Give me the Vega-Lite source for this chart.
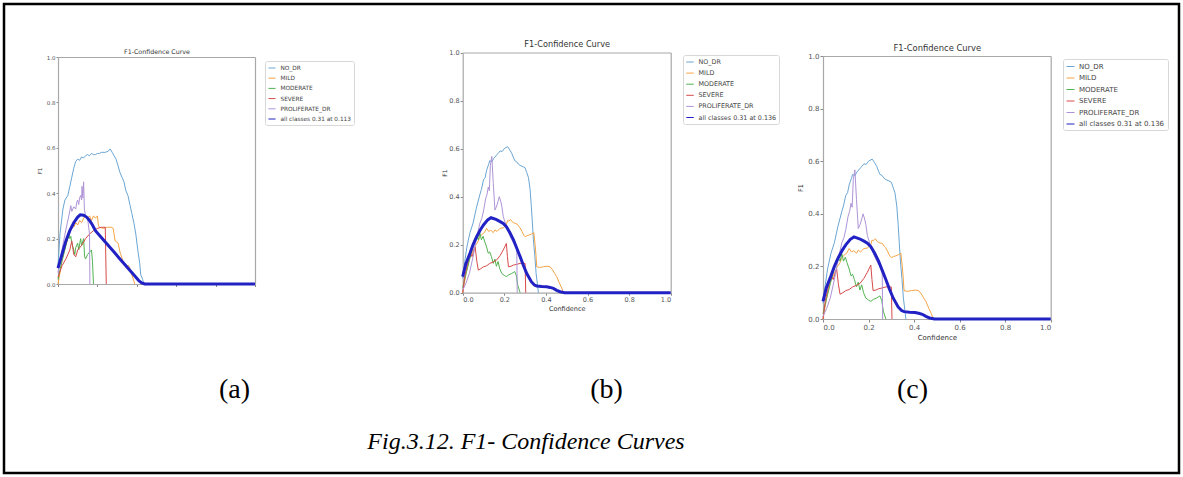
{
  "$schema": "https://vega.github.io/schema/vega-lite/v6.json",
  "width": 1175,
  "height": 469,
  "padding": 4,
  "autosize": {"type": "none"},
  "background": "white",
  "title": {"text": "Fig.3.12. F1- Confidence Curves", "orient": "bottom", "frame": "group", "anchor": "middle", "offset": -24, "dx": -65.5, "baseline": "alphabetic", "font": "Liberation Serif", "fontStyle": "italic", "fontWeight": "normal", "fontSize": 24, "color": "#000"},
  "config": {
    "view": {"stroke": "#000", "strokeWidth": 2.5},
    "axis": {"grid": false, "labelFont": "DejaVu Sans", "titleFont": "DejaVu Sans", "titleFontWeight": "normal", "labelColor": "#555", "titleColor": "#333", "domainColor": "#a8a8a8", "tickColor": "#888", "domainWidth": 1.2},
    "legend": {"labelFont": "DejaVu Sans", "labelColor": "#444", "fillColor": "white", "strokeColor": "#d8d8d8", "cornerRadius": 2, "symbolType": "stroke"}
  },
  "datasets": {
    "a": [
      {"s":"NO_DR","x":0,"y":0.08},{"s":"NO_DR","x":0.01,"y":0.22},{"s":"NO_DR","x":0.025,"y":0.33},{"s":"NO_DR","x":0.035,"y":0.37},{"s":"NO_DR","x":0.05,"y":0.39},{"s":"NO_DR","x":0.06,"y":0.43},{"s":"NO_DR","x":0.07,"y":0.47},{"s":"NO_DR","x":0.08,"y":0.51},{"s":"NO_DR","x":0.09,"y":0.54},{"s":"NO_DR","x":0.1,"y":0.55},{"s":"NO_DR","x":0.11,"y":0.545},{"s":"NO_DR","x":0.12,"y":0.56},{"s":"NO_DR","x":0.13,"y":0.555},{"s":"NO_DR","x":0.14,"y":0.565},{"s":"NO_DR","x":0.15,"y":0.57},{"s":"NO_DR","x":0.16,"y":0.565},{"s":"NO_DR","x":0.17,"y":0.575},{"s":"NO_DR","x":0.18,"y":0.57},{"s":"NO_DR","x":0.19,"y":0.57},{"s":"NO_DR","x":0.2,"y":0.575},{"s":"NO_DR","x":0.21,"y":0.575},{"s":"NO_DR","x":0.22,"y":0.58},{"s":"NO_DR","x":0.24,"y":0.58},{"s":"NO_DR","x":0.255,"y":0.585},{"s":"NO_DR","x":0.265,"y":0.595},{"s":"NO_DR","x":0.275,"y":0.58},{"s":"NO_DR","x":0.285,"y":0.565},{"s":"NO_DR","x":0.295,"y":0.55},{"s":"NO_DR","x":0.305,"y":0.52},{"s":"NO_DR","x":0.315,"y":0.49},{"s":"NO_DR","x":0.325,"y":0.47},{"s":"NO_DR","x":0.335,"y":0.45},{"s":"NO_DR","x":0.345,"y":0.41},{"s":"NO_DR","x":0.355,"y":0.39},{"s":"NO_DR","x":0.365,"y":0.35},{"s":"NO_DR","x":0.375,"y":0.31},{"s":"NO_DR","x":0.385,"y":0.27},{"s":"NO_DR","x":0.395,"y":0.22},{"s":"NO_DR","x":0.405,"y":0.15},{"s":"NO_DR","x":0.415,"y":0.09},{"s":"NO_DR","x":0.42,"y":0.04},{"s":"NO_DR","x":0.43,"y":0.02},{"s":"NO_DR","x":0.435,"y":0},
      {"s":"MILD","x":0,"y":0},{"s":"MILD","x":0.02,"y":0.1},{"s":"MILD","x":0.04,"y":0.17},{"s":"MILD","x":0.06,"y":0.23},{"s":"MILD","x":0.07,"y":0.26},{"s":"MILD","x":0.08,"y":0.25},{"s":"MILD","x":0.09,"y":0.27},{"s":"MILD","x":0.1,"y":0.26},{"s":"MILD","x":0.11,"y":0.28},{"s":"MILD","x":0.12,"y":0.27},{"s":"MILD","x":0.13,"y":0.29},{"s":"MILD","x":0.14,"y":0.3},{"s":"MILD","x":0.15,"y":0.29},{"s":"MILD","x":0.16,"y":0.3},{"s":"MILD","x":0.17,"y":0.28},{"s":"MILD","x":0.18,"y":0.3},{"s":"MILD","x":0.19,"y":0.29},{"s":"MILD","x":0.2,"y":0.3},{"s":"MILD","x":0.205,"y":0.26},{"s":"MILD","x":0.21,"y":0.25},{"s":"MILD","x":0.23,"y":0.245},{"s":"MILD","x":0.25,"y":0.25},{"s":"MILD","x":0.27,"y":0.25},{"s":"MILD","x":0.28,"y":0.245},{"s":"MILD","x":0.29,"y":0.19},{"s":"MILD","x":0.305,"y":0.18},{"s":"MILD","x":0.315,"y":0.14},{"s":"MILD","x":0.33,"y":0.1},{"s":"MILD","x":0.35,"y":0.08},{"s":"MILD","x":0.36,"y":0.08},{"s":"MILD","x":0.375,"y":0.04},{"s":"MILD","x":0.39,"y":0},
      {"s":"MODERATE","x":0,"y":0.02},{"s":"MODERATE","x":0.02,"y":0.1},{"s":"MODERATE","x":0.04,"y":0.17},{"s":"MODERATE","x":0.055,"y":0.22},{"s":"MODERATE","x":0.06,"y":0.2},{"s":"MODERATE","x":0.065,"y":0.21},{"s":"MODERATE","x":0.07,"y":0.18},{"s":"MODERATE","x":0.08,"y":0.15},{"s":"MODERATE","x":0.085,"y":0.13},{"s":"MODERATE","x":0.09,"y":0.16},{"s":"MODERATE","x":0.1,"y":0.18},{"s":"MODERATE","x":0.105,"y":0.15},{"s":"MODERATE","x":0.115,"y":0.2},{"s":"MODERATE","x":0.12,"y":0.17},{"s":"MODERATE","x":0.13,"y":0.2},{"s":"MODERATE","x":0.135,"y":0.12},{"s":"MODERATE","x":0.14,"y":0.11},{"s":"MODERATE","x":0.15,"y":0.13},{"s":"MODERATE","x":0.16,"y":0.14},{"s":"MODERATE","x":0.17,"y":0.15},{"s":"MODERATE","x":0.175,"y":0.1},{"s":"MODERATE","x":0.18,"y":0},
      {"s":"SEVERE","x":0,"y":0.03},{"s":"SEVERE","x":0.02,"y":0.08},{"s":"SEVERE","x":0.04,"y":0.11},{"s":"SEVERE","x":0.06,"y":0.15},{"s":"SEVERE","x":0.07,"y":0.19},{"s":"SEVERE","x":0.075,"y":0.16},{"s":"SEVERE","x":0.08,"y":0.13},{"s":"SEVERE","x":0.09,"y":0.12},{"s":"SEVERE","x":0.1,"y":0.15},{"s":"SEVERE","x":0.12,"y":0.17},{"s":"SEVERE","x":0.14,"y":0.2},{"s":"SEVERE","x":0.16,"y":0.22},{"s":"SEVERE","x":0.18,"y":0.235},{"s":"SEVERE","x":0.2,"y":0.245},{"s":"SEVERE","x":0.22,"y":0.25},{"s":"SEVERE","x":0.24,"y":0.25},{"s":"SEVERE","x":0.245,"y":0},
      {"s":"PROLIFERATE_DR","x":0,"y":0.05},{"s":"PROLIFERATE_DR","x":0.02,"y":0.15},{"s":"PROLIFERATE_DR","x":0.04,"y":0.24},{"s":"PROLIFERATE_DR","x":0.055,"y":0.3},{"s":"PROLIFERATE_DR","x":0.065,"y":0.345},{"s":"PROLIFERATE_DR","x":0.07,"y":0.32},{"s":"PROLIFERATE_DR","x":0.08,"y":0.34},{"s":"PROLIFERATE_DR","x":0.09,"y":0.33},{"s":"PROLIFERATE_DR","x":0.095,"y":0.36},{"s":"PROLIFERATE_DR","x":0.1,"y":0.37},{"s":"PROLIFERATE_DR","x":0.105,"y":0.35},{"s":"PROLIFERATE_DR","x":0.11,"y":0.38},{"s":"PROLIFERATE_DR","x":0.115,"y":0.39},{"s":"PROLIFERATE_DR","x":0.12,"y":0.37},{"s":"PROLIFERATE_DR","x":0.122,"y":0.43},{"s":"PROLIFERATE_DR","x":0.126,"y":0.38},{"s":"PROLIFERATE_DR","x":0.13,"y":0.45},{"s":"PROLIFERATE_DR","x":0.134,"y":0.33},{"s":"PROLIFERATE_DR","x":0.14,"y":0.3},{"s":"PROLIFERATE_DR","x":0.15,"y":0.29},{"s":"PROLIFERATE_DR","x":0.16,"y":0.22},{"s":"PROLIFERATE_DR","x":0.162,"y":0},
      {"s":"all classes 0.31 at 0.113","x":0,"y":0.07},{"s":"all classes 0.31 at 0.113","x":0.02,"y":0.13},{"s":"all classes 0.31 at 0.113","x":0.04,"y":0.19},{"s":"all classes 0.31 at 0.113","x":0.06,"y":0.235},{"s":"all classes 0.31 at 0.113","x":0.08,"y":0.27},{"s":"all classes 0.31 at 0.113","x":0.1,"y":0.295},{"s":"all classes 0.31 at 0.113","x":0.113,"y":0.305},{"s":"all classes 0.31 at 0.113","x":0.13,"y":0.303},{"s":"all classes 0.31 at 0.113","x":0.145,"y":0.295},{"s":"all classes 0.31 at 0.113","x":0.16,"y":0.28},{"s":"all classes 0.31 at 0.113","x":0.175,"y":0.26},{"s":"all classes 0.31 at 0.113","x":0.19,"y":0.235},{"s":"all classes 0.31 at 0.113","x":0.21,"y":0.215},{"s":"all classes 0.31 at 0.113","x":0.23,"y":0.195},{"s":"all classes 0.31 at 0.113","x":0.25,"y":0.175},{"s":"all classes 0.31 at 0.113","x":0.27,"y":0.155},{"s":"all classes 0.31 at 0.113","x":0.29,"y":0.135},{"s":"all classes 0.31 at 0.113","x":0.31,"y":0.115},{"s":"all classes 0.31 at 0.113","x":0.33,"y":0.095},{"s":"all classes 0.31 at 0.113","x":0.35,"y":0.075},{"s":"all classes 0.31 at 0.113","x":0.37,"y":0.055},{"s":"all classes 0.31 at 0.113","x":0.39,"y":0.035},{"s":"all classes 0.31 at 0.113","x":0.41,"y":0.015},{"s":"all classes 0.31 at 0.113","x":0.425,"y":0.005},{"s":"all classes 0.31 at 0.113","x":0.44,"y":0},{"s":"all classes 0.31 at 0.113","x":0.6,"y":0},{"s":"all classes 0.31 at 0.113","x":0.8,"y":0},{"s":"all classes 0.31 at 0.113","x":1,"y":0}
    ],
    "b": [
      {"s":"NO_DR","x":0,"y":0.06},{"s":"NO_DR","x":0.01,"y":0.13},{"s":"NO_DR","x":0.02,"y":0.19},{"s":"NO_DR","x":0.035,"y":0.25},{"s":"NO_DR","x":0.05,"y":0.29},{"s":"NO_DR","x":0.065,"y":0.35},{"s":"NO_DR","x":0.083,"y":0.41},{"s":"NO_DR","x":0.09,"y":0.43},{"s":"NO_DR","x":0.1,"y":0.47},{"s":"NO_DR","x":0.108,"y":0.48},{"s":"NO_DR","x":0.115,"y":0.51},{"s":"NO_DR","x":0.125,"y":0.535},{"s":"NO_DR","x":0.13,"y":0.55},{"s":"NO_DR","x":0.14,"y":0.545},{"s":"NO_DR","x":0.15,"y":0.56},{"s":"NO_DR","x":0.165,"y":0.575},{"s":"NO_DR","x":0.18,"y":0.59},{"s":"NO_DR","x":0.19,"y":0.588},{"s":"NO_DR","x":0.2,"y":0.6},{"s":"NO_DR","x":0.216,"y":0.608},{"s":"NO_DR","x":0.226,"y":0.595},{"s":"NO_DR","x":0.236,"y":0.58},{"s":"NO_DR","x":0.245,"y":0.56},{"s":"NO_DR","x":0.25,"y":0.55},{"s":"NO_DR","x":0.26,"y":0.545},{"s":"NO_DR","x":0.268,"y":0.535},{"s":"NO_DR","x":0.276,"y":0.53},{"s":"NO_DR","x":0.29,"y":0.525},{"s":"NO_DR","x":0.3,"y":0.52},{"s":"NO_DR","x":0.308,"y":0.5},{"s":"NO_DR","x":0.316,"y":0.48},{"s":"NO_DR","x":0.324,"y":0.43},{"s":"NO_DR","x":0.33,"y":0.36},{"s":"NO_DR","x":0.335,"y":0.29},{"s":"NO_DR","x":0.34,"y":0.22},{"s":"NO_DR","x":0.347,"y":0.15},{"s":"NO_DR","x":0.353,"y":0.08},{"s":"NO_DR","x":0.36,"y":0.03},{"s":"NO_DR","x":0.364,"y":0},
      {"s":"MILD","x":0,"y":0},{"s":"MILD","x":0.016,"y":0.08},{"s":"MILD","x":0.032,"y":0.14},{"s":"MILD","x":0.05,"y":0.175},{"s":"MILD","x":0.064,"y":0.2},{"s":"MILD","x":0.072,"y":0.21},{"s":"MILD","x":0.083,"y":0.233},{"s":"MILD","x":0.095,"y":0.245},{"s":"MILD","x":0.104,"y":0.25},{"s":"MILD","x":0.115,"y":0.268},{"s":"MILD","x":0.125,"y":0.255},{"s":"MILD","x":0.135,"y":0.26},{"s":"MILD","x":0.147,"y":0.25},{"s":"MILD","x":0.155,"y":0.262},{"s":"MILD","x":0.165,"y":0.255},{"s":"MILD","x":0.18,"y":0.268},{"s":"MILD","x":0.195,"y":0.27},{"s":"MILD","x":0.21,"y":0.282},{"s":"MILD","x":0.215,"y":0.3},{"s":"MILD","x":0.222,"y":0.298},{"s":"MILD","x":0.23,"y":0.305},{"s":"MILD","x":0.238,"y":0.295},{"s":"MILD","x":0.247,"y":0.29},{"s":"MILD","x":0.255,"y":0.288},{"s":"MILD","x":0.263,"y":0.285},{"s":"MILD","x":0.27,"y":0.275},{"s":"MILD","x":0.276,"y":0.27},{"s":"MILD","x":0.285,"y":0.255},{"s":"MILD","x":0.293,"y":0.24},{"s":"MILD","x":0.3,"y":0.233},{"s":"MILD","x":0.31,"y":0.238},{"s":"MILD","x":0.32,"y":0.24},{"s":"MILD","x":0.332,"y":0.245},{"s":"MILD","x":0.342,"y":0.25},{"s":"MILD","x":0.348,"y":0.2},{"s":"MILD","x":0.352,"y":0.16},{"s":"MILD","x":0.356,"y":0.108},{"s":"MILD","x":0.37,"y":0.105},{"s":"MILD","x":0.388,"y":0.108},{"s":"MILD","x":0.405,"y":0.11},{"s":"MILD","x":0.42,"y":0.108},{"s":"MILD","x":0.432,"y":0.095},{"s":"MILD","x":0.442,"y":0.08},{"s":"MILD","x":0.452,"y":0.067},{"s":"MILD","x":0.465,"y":0.04},{"s":"MILD","x":0.476,"y":0.02},{"s":"MILD","x":0.484,"y":0},
      {"s":"MODERATE","x":0,"y":0.02},{"s":"MODERATE","x":0.016,"y":0.079},{"s":"MODERATE","x":0.032,"y":0.134},{"s":"MODERATE","x":0.048,"y":0.19},{"s":"MODERATE","x":0.058,"y":0.225},{"s":"MODERATE","x":0.067,"y":0.233},{"s":"MODERATE","x":0.075,"y":0.22},{"s":"MODERATE","x":0.083,"y":0.247},{"s":"MODERATE","x":0.09,"y":0.22},{"s":"MODERATE","x":0.098,"y":0.235},{"s":"MODERATE","x":0.105,"y":0.215},{"s":"MODERATE","x":0.115,"y":0.19},{"s":"MODERATE","x":0.123,"y":0.164},{"s":"MODERATE","x":0.13,"y":0.17},{"s":"MODERATE","x":0.138,"y":0.15},{"s":"MODERATE","x":0.147,"y":0.122},{"s":"MODERATE","x":0.155,"y":0.14},{"s":"MODERATE","x":0.162,"y":0.11},{"s":"MODERATE","x":0.17,"y":0.13},{"s":"MODERATE","x":0.178,"y":0.1},{"s":"MODERATE","x":0.188,"y":0.08},{"s":"MODERATE","x":0.2,"y":0.072},{"s":"MODERATE","x":0.21,"y":0.067},{"s":"MODERATE","x":0.222,"y":0.075},{"s":"MODERATE","x":0.236,"y":0.08},{"s":"MODERATE","x":0.25,"y":0.088},{"s":"MODERATE","x":0.258,"y":0.07},{"s":"MODERATE","x":0.265,"y":0.03},{"s":"MODERATE","x":0.276,"y":0},
      {"s":"SEVERE","x":0,"y":0},{"s":"SEVERE","x":0.01,"y":0.07},{"s":"SEVERE","x":0.02,"y":0.108},{"s":"SEVERE","x":0.028,"y":0.14},{"s":"SEVERE","x":0.035,"y":0.164},{"s":"SEVERE","x":0.045,"y":0.15},{"s":"SEVERE","x":0.052,"y":0.17},{"s":"SEVERE","x":0.06,"y":0.19},{"s":"SEVERE","x":0.068,"y":0.13},{"s":"SEVERE","x":0.075,"y":0.094},{"s":"SEVERE","x":0.087,"y":0.1},{"s":"SEVERE","x":0.1,"y":0.108},{"s":"SEVERE","x":0.115,"y":0.112},{"s":"SEVERE","x":0.13,"y":0.122},{"s":"SEVERE","x":0.147,"y":0.128},{"s":"SEVERE","x":0.163,"y":0.136},{"s":"SEVERE","x":0.18,"y":0.155},{"s":"SEVERE","x":0.195,"y":0.178},{"s":"SEVERE","x":0.21,"y":0.205},{"s":"SEVERE","x":0.215,"y":0.15},{"s":"SEVERE","x":0.22,"y":0.108},{"s":"SEVERE","x":0.232,"y":0.11},{"s":"SEVERE","x":0.244,"y":0.115},{"s":"SEVERE","x":0.26,"y":0.118},{"s":"SEVERE","x":0.276,"y":0.122},{"s":"SEVERE","x":0.3,"y":0.122},{"s":"SEVERE","x":0.303,"y":0},
      {"s":"PROLIFERATE_DR","x":0,"y":0.01},{"s":"PROLIFERATE_DR","x":0.016,"y":0.04},{"s":"PROLIFERATE_DR","x":0.032,"y":0.08},{"s":"PROLIFERATE_DR","x":0.05,"y":0.15},{"s":"PROLIFERATE_DR","x":0.065,"y":0.22},{"s":"PROLIFERATE_DR","x":0.075,"y":0.26},{"s":"PROLIFERATE_DR","x":0.083,"y":0.29},{"s":"PROLIFERATE_DR","x":0.092,"y":0.31},{"s":"PROLIFERATE_DR","x":0.1,"y":0.34},{"s":"PROLIFERATE_DR","x":0.11,"y":0.39},{"s":"PROLIFERATE_DR","x":0.117,"y":0.41},{"s":"PROLIFERATE_DR","x":0.123,"y":0.44},{"s":"PROLIFERATE_DR","x":0.128,"y":0.425},{"s":"PROLIFERATE_DR","x":0.133,"y":0.53},{"s":"PROLIFERATE_DR","x":0.14,"y":0.567},{"s":"PROLIFERATE_DR","x":0.147,"y":0.455},{"s":"PROLIFERATE_DR","x":0.155,"y":0.344},{"s":"PROLIFERATE_DR","x":0.163,"y":0.36},{"s":"PROLIFERATE_DR","x":0.17,"y":0.38},{"s":"PROLIFERATE_DR","x":0.176,"y":0.4},{"s":"PROLIFERATE_DR","x":0.183,"y":0.38},{"s":"PROLIFERATE_DR","x":0.188,"y":0.36},{"s":"PROLIFERATE_DR","x":0.195,"y":0.317},{"s":"PROLIFERATE_DR","x":0.21,"y":0.275},{"s":"PROLIFERATE_DR","x":0.225,"y":0.24},{"s":"PROLIFERATE_DR","x":0.236,"y":0.22},{"s":"PROLIFERATE_DR","x":0.25,"y":0.2},{"s":"PROLIFERATE_DR","x":0.26,"y":0.19},{"s":"PROLIFERATE_DR","x":0.262,"y":0},
      {"s":"all classes 0.31 at 0.136","x":0,"y":0.067},{"s":"all classes 0.31 at 0.136","x":0.015,"y":0.12},{"s":"all classes 0.31 at 0.136","x":0.035,"y":0.164},{"s":"all classes 0.31 at 0.136","x":0.05,"y":0.2},{"s":"all classes 0.31 at 0.136","x":0.067,"y":0.233},{"s":"all classes 0.31 at 0.136","x":0.085,"y":0.262},{"s":"all classes 0.31 at 0.136","x":0.1,"y":0.282},{"s":"all classes 0.31 at 0.136","x":0.12,"y":0.303},{"s":"all classes 0.31 at 0.136","x":0.136,"y":0.312},{"s":"all classes 0.31 at 0.136","x":0.16,"y":0.305},{"s":"all classes 0.31 at 0.136","x":0.18,"y":0.296},{"s":"all classes 0.31 at 0.136","x":0.195,"y":0.288},{"s":"all classes 0.31 at 0.136","x":0.21,"y":0.275},{"s":"all classes 0.31 at 0.136","x":0.227,"y":0.25},{"s":"all classes 0.31 at 0.136","x":0.244,"y":0.22},{"s":"all classes 0.31 at 0.136","x":0.26,"y":0.185},{"s":"all classes 0.31 at 0.136","x":0.276,"y":0.15},{"s":"all classes 0.31 at 0.136","x":0.292,"y":0.113},{"s":"all classes 0.31 at 0.136","x":0.308,"y":0.08},{"s":"all classes 0.31 at 0.136","x":0.33,"y":0.046},{"s":"all classes 0.31 at 0.136","x":0.345,"y":0.032},{"s":"all classes 0.31 at 0.136","x":0.356,"y":0.028},{"s":"all classes 0.31 at 0.136","x":0.38,"y":0.026},{"s":"all classes 0.31 at 0.136","x":0.404,"y":0.025},{"s":"all classes 0.31 at 0.136","x":0.42,"y":0.022},{"s":"all classes 0.31 at 0.136","x":0.436,"y":0.018},{"s":"all classes 0.31 at 0.136","x":0.452,"y":0.01},{"s":"all classes 0.31 at 0.136","x":0.468,"y":0.004},{"s":"all classes 0.31 at 0.136","x":0.49,"y":0},{"s":"all classes 0.31 at 0.136","x":0.6,"y":0},{"s":"all classes 0.31 at 0.136","x":0.8,"y":0},{"s":"all classes 0.31 at 0.136","x":1,"y":0}
    ]
  },
  "layer": [
    {
      "data": {"name": "a"},
      "transform": [{"filter": {"field": "s", "oneOf": ["NO_DR","MILD","MODERATE","SEVERE","PROLIFERATE_DR"]}}],
      "mark": {"type": "line"},
      "encoding": {
        "x": {"field": "x", "type": "quantitative", "scale": {"domain": [0, 1], "range": [54, 251], "nice": false, "zero": false},
              "axis": {"orient": "bottom", "offset": -189, "values": [0,0.2,0.4,0.6,0.8,1], "labels": false, "tickSize": 2.5, "title": null}},
        "y": {"field": "y", "type": "quantitative", "scale": {"domain": [0, 1], "range": [280, 53], "nice": false, "zero": false},
              "axis": {"orient": "left", "offset": -54, "values": [0,0.2,0.4,0.6,0.8,1], "format": ".1f", "labelFontSize": 5.5, "tickSize": 2, "labelPadding": 1, "title": "F1", "titleFontSize": 5.5, "titlePadding": 4}},
        "color": {"field": "s", "type": "ordinal",
                  "scale": {"domain": ["NO_DR","MILD","MODERATE","SEVERE","PROLIFERATE_DR","all classes 0.31 at 0.113"], "range": ["#6aa6d4","#f5a445","#52b352","#d84a4a","#ae94d6","#2222c4"]},
                  "legend": {"orient": "none", "legendX": 261, "legendY": 57, "title": null, "labelFontSize": 5.8, "symbolSize": 50, "rowPadding": 2.2, "padding": 2.5, "labelOffset": 4}},
        "strokeWidth": {"field": "s", "type": "ordinal",
                  "scale": {"domain": ["NO_DR","MILD","MODERATE","SEVERE","PROLIFERATE_DR","all classes 0.31 at 0.113"], "range": [1,1,1,1,1,3]},
                  "legend": {"orient": "none", "legendX": 261, "legendY": 57, "title": null, "labelFontSize": 5.8, "symbolSize": 50, "rowPadding": 2.2, "padding": 2.5, "labelOffset": 4}}
      }
    },
    {
      "data": {"name": "a"},
      "transform": [{"filter": {"field": "s", "equal": "all classes 0.31 at 0.113"}}],
      "mark": {"type": "line", "strokeWidth": 3, "color": "#2222c4"},
      "encoding": {
        "x": {"field": "x", "type": "quantitative", "scale": {"domain": [0, 1], "range": [54, 251], "nice": false, "zero": false},
              "axis": {"orient": "top", "offset": -53, "labels": false, "ticks": false, "title": "F1-Confidence Curve", "titleFontSize": 6.3, "titlePadding": 3}},
        "y": {"field": "y", "type": "quantitative", "scale": {"domain": [0, 1], "range": [280, 53], "nice": false, "zero": false},
              "axis": {"orient": "right", "offset": -924, "labels": false, "ticks": false, "title": "(a)", "titleAngle": 0, "titleX": -21, "titleY": 393, "titleAlign": "center", "titleBaseline": "alphabetic", "titleFont": "Liberation Serif", "titleFontSize": 28, "titleColor": "#000"}}
      }
    },
    {
      "data": {"name": "b"},
      "transform": [{"filter": {"field": "s", "oneOf": ["NO_DR","MILD","MODERATE","SEVERE","PROLIFERATE_DR"]}}],
      "mark": {"type": "line"},
      "encoding": {
        "x": {"field": "x", "type": "quantitative", "scale": {"domain": [0, 1], "range": [458.7, 666.7], "nice": false, "zero": false},
              "axis": {"orient": "bottom", "offset": -180.3, "values": [0,0.2,0.4,0.6,0.8,1], "format": ".1f", "labelFontSize": 6.5, "tickSize": 2.5, "labelPadding": 1, "title": "Confidence", "titleFontSize": 6.5, "titlePadding": 3}},
        "y": {"field": "y", "type": "quantitative", "scale": {"domain": [0, 1], "range": [288.7, 48.5], "nice": false, "zero": false},
              "axis": {"orient": "left", "offset": -458.7, "values": [0,0.2,0.4,0.6,0.8,1], "format": ".1f", "labelFontSize": 6.5, "tickSize": 2.5, "labelPadding": 1, "title": "F1", "titleFontSize": 6, "titlePadding": 1}},
        "color": {"field": "s", "type": "ordinal",
                  "scale": {"domain": ["NO_DR","MILD","MODERATE","SEVERE","PROLIFERATE_DR","all classes 0.31 at 0.136"], "range": ["#6aa6d4","#f5a445","#52b352","#d84a4a","#ae94d6","#2222c4"]},
                  "legend": {"orient": "none", "legendX": 679, "legendY": 51, "title": null, "labelFontSize": 6.4, "symbolSize": 56, "rowPadding": 3.1, "padding": 2.5, "labelOffset": 4}},
        "strokeWidth": {"field": "s", "type": "ordinal",
                  "scale": {"domain": ["NO_DR","MILD","MODERATE","SEVERE","PROLIFERATE_DR","all classes 0.31 at 0.136"], "range": [1,1,1,1,1,3]},
                  "legend": {"orient": "none", "legendX": 679, "legendY": 51, "title": null, "labelFontSize": 6.4, "symbolSize": 56, "rowPadding": 3.1, "padding": 2.5, "labelOffset": 4}}
      }
    },
    {
      "data": {"name": "b"},
      "transform": [{"filter": {"field": "s", "equal": "all classes 0.31 at 0.136"}}],
      "mark": {"type": "line", "strokeWidth": 3, "color": "#2222c4"},
      "encoding": {
        "x": {"field": "x", "type": "quantitative", "scale": {"domain": [0, 1], "range": [458.7, 666.7], "nice": false, "zero": false},
              "axis": {"orient": "top", "offset": -48.5, "labels": false, "ticks": false, "title": "F1-Confidence Curve", "titleFontSize": 8.2, "titlePadding": 4}},
        "y": {"field": "y", "type": "quantitative", "scale": {"domain": [0, 1], "range": [288.7, 48.5], "nice": false, "zero": false},
              "axis": {"orient": "right", "offset": -508.3, "labels": false, "ticks": false, "title": "(b)", "titleAngle": 0, "titleX": -64.7, "titleY": 393, "titleAlign": "center", "titleBaseline": "alphabetic", "titleFont": "Liberation Serif", "titleFontSize": 28, "titleColor": "#000"}}
      }
    },
    {
      "data": {"name": "b"},
      "transform": [{"filter": {"field": "s", "oneOf": ["NO_DR","MILD","MODERATE","SEVERE","PROLIFERATE_DR"]}}],
      "mark": {"type": "line"},
      "encoding": {
        "x": {"field": "x", "type": "quantitative", "scale": {"domain": [0, 1], "range": [819, 1046.7], "nice": false, "zero": false},
              "axis": {"orient": "bottom", "offset": -154, "values": [0,0.2,0.4,0.6,0.8,1], "format": ".1f", "labelFontSize": 7, "tickSize": 3, "labelPadding": 1, "title": "Confidence", "titleFontSize": 7, "titlePadding": 3}},
        "y": {"field": "y", "type": "quantitative", "scale": {"domain": [0, 1], "range": [315, 52], "nice": false, "zero": false},
              "axis": {"orient": "left", "offset": -819, "values": [0,0.2,0.4,0.6,0.8,1], "format": ".1f", "labelFontSize": 7, "tickSize": 3, "labelPadding": 1, "title": "F1", "titleFontSize": 6.5, "titlePadding": 4}},
        "color": {"field": "s", "type": "ordinal",
                  "scale": {"domain": ["NO_DR","MILD","MODERATE","SEVERE","PROLIFERATE_DR","all classes 0.31 at 0.136"], "range": ["#6aa6d4","#f5a445","#52b352","#d84a4a","#ae94d6","#2222c4"]},
                  "legend": {"orient": "none", "legendX": 1059, "legendY": 55, "title": null, "labelFontSize": 7, "symbolSize": 64, "rowPadding": 3.5, "padding": 3, "labelOffset": 4}},
        "strokeWidth": {"field": "s", "type": "ordinal",
                  "scale": {"domain": ["NO_DR","MILD","MODERATE","SEVERE","PROLIFERATE_DR","all classes 0.31 at 0.136"], "range": [1,1,1,1,1,3]},
                  "legend": {"orient": "none", "legendX": 1059, "legendY": 55, "title": null, "labelFontSize": 7, "symbolSize": 64, "rowPadding": 3.5, "padding": 3, "labelOffset": 4}}
      }
    },
    {
      "data": {"name": "b"},
      "transform": [{"filter": {"field": "s", "equal": "all classes 0.31 at 0.136"}}],
      "mark": {"type": "line", "strokeWidth": 3, "color": "#2222c4"},
      "encoding": {
        "x": {"field": "x", "type": "quantitative", "scale": {"domain": [0, 1], "range": [819, 1046.7], "nice": false, "zero": false},
              "axis": {"orient": "top", "offset": -52, "labels": false, "ticks": false, "title": "F1-Confidence Curve", "titleFontSize": 8.4, "titlePadding": 4}},
        "y": {"field": "y", "type": "quantitative", "scale": {"domain": [0, 1], "range": [315, 52], "nice": false, "zero": false},
              "axis": {"orient": "right", "offset": -128.3, "labels": false, "ticks": false, "title": "(c)", "titleAngle": 0, "titleX": -138.7, "titleY": 393, "titleAlign": "center", "titleBaseline": "alphabetic", "titleFont": "Liberation Serif", "titleFontSize": 28, "titleColor": "#000"}}
      }
    }
  ],
  "resolve": {
    "scale": {"x": "independent", "y": "independent", "color": "independent", "strokeWidth": "independent"},
    "axis": {"x": "independent", "y": "independent"},
    "legend": {"color": "independent", "strokeWidth": "independent"}
  }
}
